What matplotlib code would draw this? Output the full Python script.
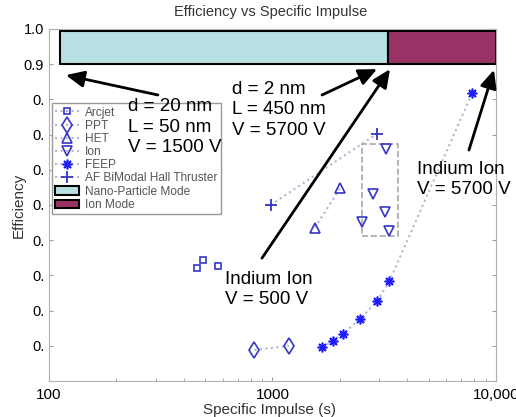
import numpy as np
import matplotlib.pyplot as plt
from matplotlib.lines import Line2D
from matplotlib.patches import Patch, Rectangle

plt.rcParams['font.family'] = ['Liberation Sans', 'DejaVu Sans']

# Data
arcjet_isp = [458, 490, 569]
arcjet_eff = [0.320, 0.344, 0.328]
ppt_isp = [830, 1186]
ppt_eff = [0.088, 0.100]
het_isp = [1549, 2005]
het_eff = [0.436, 0.547]
ion_isp = [3210, 2826, 3185, 2523, 3332]
ion_eff = [0.658, 0.531, 0.479, 0.451, 0.427]
feep_isp = [1670, 1859, 2061, 2463, 2944, 3332, 7835]
feep_eff = [0.096, 0.114, 0.134, 0.176, 0.228, 0.283, 0.819]
af_isp = [981, 2925]
af_eff = [0.500, 0.702]

ion_box_isp = [2507, 3657]
ion_box_eff = [0.413, 0.673]

mode_names = ['Nano-Particle Mode', 'Ion Mode']
mode_start = [112, 3300]
mode_end = [3300, 9950]
mode_low, mode_high = 0.9, 0.995
mode_colors = ['#b8e0e3', '#993366']

ytick_vals = [0.1, 0.2, 0.3, 0.4, 0.5, 0.6, 0.7, 0.8, 0.9, 1.0]
ytick_labels = ['0.', '0.', '0.', '0.', '0.', '0.', '0.', '0.', '0.9', '1.0']
xtick_vals = [100, 1000, 10000]
xtick_labels = ['100', '1000', '10,000']

# annotations: (text, text position, arrow start, arrow tip)
notes = [
    ('d = 20 nm\nL = 50 nm\nV = 1500 V', (226, 0.803), (307, 0.8125), (119, 0.869)),
    ('d = 2 nm\nL = 450 nm\nV = 5700 V', (659, 0.852), (1666, 0.8125), (2935, 0.886)),
    ('Indium Ion\nV = 500 V', (613, 0.312), (897, 0.349), (3356, 0.886)),
    ('Indium Ion\nV = 5700 V', (4432, 0.625), (7568, 0.656), (9795, 0.884)),
]

blue = '#3535c8'
feep_blue = '#1c1cff'
dot_col = '#b4b4d4'

fig = plt.figure(figsize=(5.16, 4.17), dpi=100)
ax = fig.add_axes([49/516, 1-381/417, 447/516, 352/417])

for s, e, c in zip(mode_start, mode_end, mode_colors):
    ax.barh([(mode_low + mode_high) / 2], [e - s], left=s, height=mode_high - mode_low,
            color=c, edgecolor='black', linewidth=1.5, zorder=2)

ax.plot(arcjet_isp, arcjet_eff, ls='none', marker='s', ms=5, mfc='none', mec=blue, mew=1.2)
ax.plot(ppt_isp, ppt_eff, ls=':', color=dot_col, marker='d', ms=8, mfc='none', mec=blue, mew=1.2)
ax.plot(het_isp, het_eff, ls=':', color=dot_col, marker='^', ms=7, mfc='none', mec=blue, mew=1.2)
ax.plot(ion_isp, ion_eff, ls='none', marker='v', ms=7, mfc='none', mec=blue, mew=1.2)
ax.plot(feep_isp, feep_eff, ls=':', color=dot_col, marker=(8, 2, 0), ms=7, mec=feep_blue, mew=1.2)
ax.plot(af_isp, af_eff, ls=':', color=dot_col, marker='+', ms=8, mec=blue, mew=1.3)

ax.add_patch(Rectangle((ion_box_isp[0], ion_box_eff[0]), ion_box_isp[1] - ion_box_isp[0],
                       ion_box_eff[1] - ion_box_eff[0], fill=False, ls='--',
                       edgecolor='#a8a8a8', lw=1.2))

ax.set_xscale('log')
ax.set_xlim(100, 10000)
ax.set_ylim(0, 1.0)
ax.set_xticks(xtick_vals)
ax.set_xticklabels(xtick_labels, fontsize=11)
ax.set_yticks(ytick_vals)
ax.set_yticklabels(ytick_labels, fontsize=10.5)
ax.tick_params(which='both', direction='in', top=True, right=True, color='#a0a0a0', length=3)
ax.tick_params(which='minor', length=2)
ax.tick_params(axis='x', pad=5)
for sp in ax.spines.values():
    sp.set_color('#b0b0b0')

ax.set_xlabel('Specific Impulse (s)', fontsize=11, color='#333333')
ax.xaxis.set_label_coords(0.494, -0.062)
ax.set_ylabel('Efficiency', fontsize=11, color='#333333')
ax.yaxis.set_label_coords(-0.052, 0.5)
fig.text(271/516, 1-12/417, 'Efficiency vs Specific Impulse', ha='center', va='center',
         fontsize=10.5, color='#333333')

handles = [
    Line2D([], [], ls=':', color=dot_col, marker='s', ms=5, mfc='none', mec=blue, mew=1.2),
    Line2D([], [], ls=':', color=dot_col, marker='d', ms=8, mfc='none', mec=blue, mew=1.2),
    Line2D([], [], ls=':', color=dot_col, marker='^', ms=7, mfc='none', mec=blue, mew=1.2),
    Line2D([], [], ls=':', color=dot_col, marker='v', ms=7, mfc='none', mec=blue, mew=1.2),
    Line2D([], [], ls=':', color=dot_col, marker=(8, 2, 0), ms=7, mec=feep_blue, mew=1.2),
    Line2D([], [], ls=':', color=dot_col, marker='+', ms=8, mec=blue, mew=1.3),
    Patch(facecolor=mode_colors[0], edgecolor='black', lw=1.5),
    Patch(facecolor=mode_colors[1], edgecolor='black', lw=1.5),
]
labels = ['Arcjet', 'PPT', 'HET', 'Ion', 'FEEP', 'AF BiModal Hall Thruster'] + mode_names
leg = ax.legend(handles, labels, loc='upper left', bbox_to_anchor=(0.006, 0.79),
                fontsize=8.6, labelspacing=0.1, handlelength=2.0, handletextpad=0.5,
                borderpad=0.3, fancybox=False, framealpha=1, edgecolor='#999999',
                borderaxespad=0)
leg.get_frame().set_linewidth(1.0)
for t in leg.get_texts():
    t.set_color('#555555')

for txt, tpos, start, tip in notes:
    ax.text(tpos[0], tpos[1], txt, fontsize=13.5, ha='left', va='top', linespacing=1.25, zorder=10)
    ax.annotate('', xy=tip, xytext=start, zorder=10,
                arrowprops=dict(arrowstyle='-|>,head_length=0.55,head_width=0.25',
                                mutation_scale=20, lw=2, color='black',
                                shrinkA=0, shrinkB=0))

fig.savefig('out.png', dpi=100)
